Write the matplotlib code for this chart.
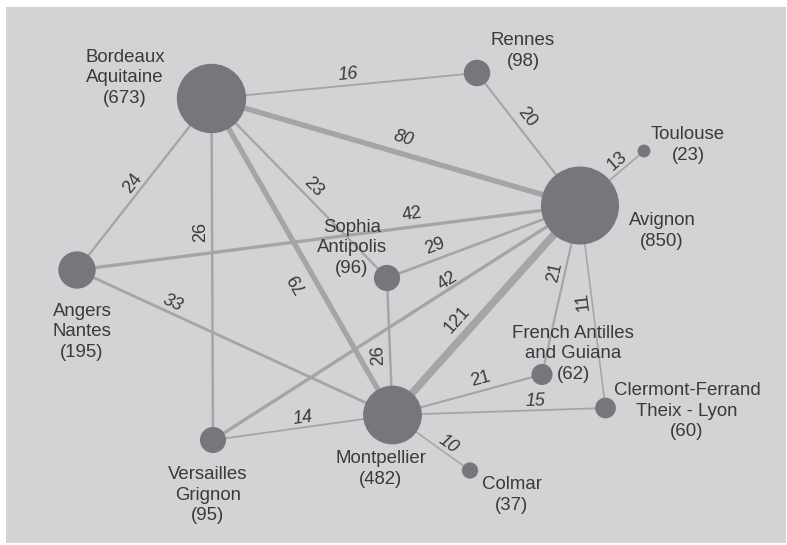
import math
import matplotlib
matplotlib.use("Agg")
import matplotlib.pyplot as plt
from matplotlib.patches import Circle, Rectangle

plt.rcParams['font.family'] = ['Liberation Sans', 'DejaVu Sans']

# ---- data -------------------------------------------------------------
node_keys = ["B", "R", "A", "T", "N", "S", "M", "V", "F", "C", "L"]
node_names = ["Bordeaux\nAquitaine", "Rennes", "Avignon", "Toulouse",
              "Angers\nNantes", "Sophia\nAntipolis", "Montpellier",
              "Versailles\nGrignon", "French Antilles\nand Guiana",
              "Clermont-Ferrand\nTheix - Lyon", "Colmar"]
node_counts = [673, 98, 850, 23, 195, 96, 482, 95, 62, 60, 37]
# layout (diagram coordinates)
node_x = [211.5, 477, 580, 644, 77, 387, 392.5, 213, 542, 605.5, 470]
node_y = [98.5, 73, 205.5, 151, 270, 278, 415, 440, 374.5, 408, 470.5]
label_x = [125, 523, 662, 688, 82, 352, 381, 208, 573, 687, 512]
label_y = [78, 51, 231, 145, 332, 248, 469, 495, 354, 411, 495]

edge_src = ["B", "R", "B", "A", "N", "V", "B", "M", "N", "S",
            "V", "M", "F", "C", "N", "M", "V", "M", "M", "M"]
edge_dst = ["R", "A", "A", "T", "B", "B", "S", "B", "A", "A",
            "A", "A", "A", "A", "M", "S", "M", "F", "C", "L"]
edge_weight = [16, 20, 80, 13, 24, 26, 23, 79, 42, 29,
               42, 121, 21, 11, 33, 26, 14, 21, 15, 10]
edge_label_t = [0.52, 0.39, 0.51, 0.68, 0.47, 0.61, 0.535, 0.445, 0.67, 0.27,
                0.65, 0.405, 0.59, 0.53, 0.29, 0.44, 0.51, 0.61, 0.67, 0.65]
edge_label_off = [11, 12, 15, 10, 10, 12, 11, 16, 13, 13,
                  8, 15, 10, 9, 10, 12, 9, 12, 9, 9]
edge_italic = [True, False, True, False, False, False, False, False, False, False,
               False, False, False, False, True, False, True, False, True, True]

# ---- style ------------------------------------------------------------
W, H = 787, 545
BG = "#d2d3d5"
NODE = "#76777b"
EDGE = "#a4a5a7"
TEXT = "#3a3a3c"

fig = plt.figure(figsize=(W / 100, H / 100), dpi=100)
fig.patch.set_facecolor("white")
ax = fig.add_axes([0, 0, 1, 1])
ax.set_xlim(0, W)
ax.set_ylim(H, 0)
ax.set_aspect("equal")
ax.axis("off")

ax.add_patch(Rectangle((6, 7), 780, 536, facecolor=BG, edgecolor="none", zorder=0))

pos = {k: (x, y) for k, x, y in zip(node_keys, node_x, node_y)}
px2pt = 72 / 100

for s, d, w, t, off, it in zip(edge_src, edge_dst, edge_weight,
                               edge_label_t, edge_label_off, edge_italic):
    x0, y0 = pos[s]
    x1, y1 = pos[d]
    lw = (0.055 * w + 1.0) * px2pt
    ax.plot([x0, x1], [y0, y1], color=EDGE, lw=lw, solid_capstyle="butt", zorder=1)
    dx, dy = x1 - x0, y1 - y0
    ang = math.degrees(math.atan2(-dy, dx))
    th = math.radians(ang)
    ux, uy = -math.sin(th), -math.cos(th)
    lx = x0 + t * dx + off * ux
    ly = y0 + t * dy + off * uy
    ax.text(lx, ly, str(w), rotation=ang, rotation_mode="anchor",
            ha="center", va="center", fontsize=13, color=TEXT,
            style="italic" if it else "normal", zorder=3)

for k, n, c, lx, ly in zip(node_keys, node_names, node_counts, label_x, label_y):
    x, y = pos[k]
    r = 1.338 * math.sqrt(c)
    ax.add_patch(Circle((x, y), r, facecolor=NODE, edgecolor="none", zorder=2))
    ax.text(lx, ly, f"{n}\n({c})", ha="center", va="center",
            multialignment="center", linespacing=1.3, fontsize=13.4,
            color=TEXT, zorder=3)

fig.savefig("out.png", dpi=100, facecolor="white")
